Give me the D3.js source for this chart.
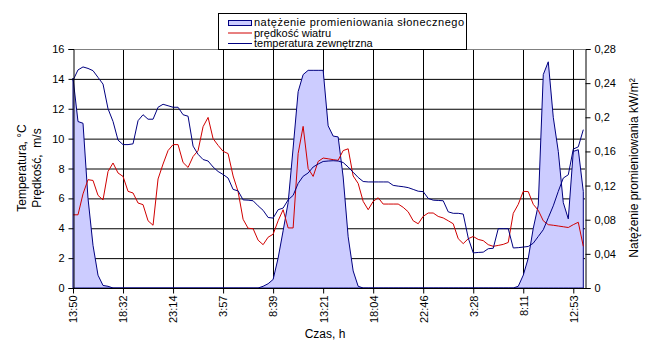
<!DOCTYPE html>
<html><head><meta charset="utf-8">
<script src="https://cdn.jsdelivr.net/npm/d3@7/dist/d3.min.js"></script>
<style>
body{margin:0;background:#fff;}
svg{display:block;font-family:"Liberation Sans",Arial,sans-serif;}
</style></head><body>
<svg id="c" width="652" height="357"></svg>
<script>
// Tick labels on the category axis (one every 10 samples)
const tickLabels = ["13:50","18:32","23:14","3:57","8:39","13:21","18:04","22:46","3:28","8:11","12:53"];
const tickEvery = 10;

// Solar radiation, kW/m2 (right axis)
const radiation = [0.246,0.195,0.193,0.105,0.05,0.015,0.003,0.002,0,0,
 0,0,0,0,0,0,0,0,0,0,
 0,0,0,0,0,0,0,0,0,0,
 0,0,0,0,0,0,0,0,0.002,0.005,
 0.01,0.035,0.067,0.1,0.164,0.23,0.25,0.255,0.255,0.255,
 0.255,0.19,0.178,0.177,0.13,0.06,0.02,0.002,0,0,
 0,0,0,0,0,0,0,0,0,0,
 0,0,0,0,0,0,0,0,0,0,
 0,0,0,0,0,0,0,0,0,0.002,
 0.015,0.035,0.07,0.097,0.25,0.265,0.2,0.16,0.1,0.081,
 0.16,0.162,0.113];

// Wind speed, m/s (left axis)
const wind = [4.9,4.9,6.3,7.25,7.2,6.2,5.9,7.8,8.37,7.7,
 7.47,6.47,6.36,5.69,5.58,4.5,4.2,7.3,8.3,9.2,
 9.6,9.6,8.4,8.07,8.8,9.2,10.8,11.42,10.0,9.55,
 9.15,9.0,7.5,6.45,4.6,4.0,3.97,3.2,2.9,3.4,
 3.6,4.5,5.24,4.02,4.02,9.0,10.82,8.0,7.47,8.47,
 8.7,8.65,8.59,8.55,9.2,9.32,7.5,7.0,5.8,5.24,
 5.8,6.04,5.62,5.62,5.62,5.62,5.4,5.1,4.5,4.3,
 4.8,5.02,5.02,4.79,4.69,4.5,4.3,3.3,2.97,3.3,
 3.45,3.25,3.17,2.9,2.79,2.85,2.92,3.05,5.0,5.6,
 6.47,6.45,5.6,5.2,4.5,4.24,4.2,4.15,4.1,4.05,
 4.24,4.4,2.79];

// Outside temperature, °C (left axis)
const temperature = [13.9,14.6,14.8,14.7,14.55,14.1,13.65,12.0,11.15,9.9,
 9.6,9.6,9.65,11.2,11.6,11.3,11.3,12.1,12.3,12.2,
 12.1,12.1,11.6,11.5,9.5,8.95,8.6,8.5,8.1,7.8,
 7.6,7.36,6.6,6.5,5.9,5.88,5.84,5.5,5.2,4.72,
 4.68,5.24,5.35,5.9,6.2,7.0,7.48,7.7,8.1,8.3,
 8.47,8.5,8.52,8.5,8.4,8.1,7.75,7.4,7.13,7.1,
 7.1,7.1,7.1,7.1,6.87,6.82,6.78,6.72,6.6,6.48,
 6.45,6.0,5.88,5.86,5.84,5.1,5.0,5.0,4.95,3.35,
 2.35,2.38,2.4,2.63,2.66,3.97,3.97,3.97,2.68,2.7,
 2.74,2.78,3.0,3.45,3.9,4.7,5.5,6.47,7.36,7.58,
 9.3,9.45,10.6];

const leftTicks = [0,2,4,6,8,10,12,14,16];
const rightTicks = [0,0.04,0.08,0.12,0.16,0.2,0.24,0.28];
const legendItems = ["natężenie promieniowania słonecznego","prędkość wiatru","temperatura zewnętrzna"];

const L = 73, R = 585, T = 49, B = 288;
const svg = d3.select("#c");
const x = d3.scaleLinear().domain([0, 102.34]).range([L, R]);
const yL = d3.scaleLinear().domain([0,16]).range([B, T]);
const yR = d3.scaleLinear().domain([0,0.28]).range([B, T]);

const cFill = "#ccccff", cNavy = "#000080", cRed = "#d00000";
const tickIdx = tickLabels.map((d,i)=>i*tickEvery);

// gridlines
const g = svg.append("g");
g.selectAll("line.h").data(leftTicks.filter(v=>v>0 && v<16)).join("line")
  .attr("x1",L).attr("x2",R).attr("y1",d=>yL(d)+0.5).attr("y2",d=>yL(d)+0.5)
  .attr("stroke","#000").attr("stroke-width",1);
g.selectAll("line.v").data(tickIdx.filter(v=>v>0)).join("line")
  .attr("x1",d=>Math.round(x(d))+0.5).attr("x2",d=>Math.round(x(d))+0.5).attr("y1",T).attr("y2",B)
  .attr("stroke","#000").attr("stroke-width",1);
// top border
svg.append("line").attr("x1",L).attr("x2",R).attr("y1",T+0.5).attr("y2",T+0.5).attr("stroke","#808080");

// radiation area
const area = d3.area().x((d,i)=>x(i)).y0(yR(0)).y1(d=>yR(d));
svg.append("path").datum(radiation).attr("d",area)
  .attr("fill",cFill).attr("stroke",cNavy).attr("stroke-width",1);

// lines
const line = d3.line().x((d,i)=>x(i)).y(d=>yL(d));
svg.append("path").datum(wind).attr("d",line).attr("fill","none").attr("stroke",cRed).attr("stroke-width",1);
svg.append("path").datum(temperature).attr("d",line).attr("fill","none").attr("stroke",cNavy).attr("stroke-width",1);

// axes
const fs = "11px";
const ax = svg.append("g").attr("transform",`translate(${L+0.5},0)`)
  .call(d3.axisLeft(yL).tickValues(leftTicks).tickSize(5).tickPadding(4).tickFormat(d3.format("d")));
const axR = svg.append("g").attr("transform",`translate(${R+0.5},0)`)
  .call(d3.axisRight(yR).tickValues(rightTicks).tickSize(5).tickPadding(4)
    .tickFormat(v=>v===0?"0":String(+v.toFixed(2)).replace(".",",")));
const axB = svg.append("g").attr("transform",`translate(0,${B+0.5})`)
  .call(d3.axisBottom(x).tickValues(tickIdx).tickSize(5).tickFormat((d,i)=>tickLabels[i]));
axB.selectAll("text").attr("transform","rotate(-90)").attr("text-anchor","end")
  .attr("x",-7).attr("y",0).attr("dy","0.35em");
[ax,axR,axB].forEach(a=>{
  a.selectAll("path.domain").attr("stroke","#000").attr("stroke-width",1);
  a.selectAll("line").attr("stroke","#000");
  a.selectAll("text").attr("fill","#000").style("font-size",fs).style("font-family",'"Liberation Sans",Arial,sans-serif');
});
axB.select("path.domain").remove();
svg.append("line").attr("x1",L).attr("x2",R+1).attr("y1",B+0.5).attr("y2",B+0.5).attr("stroke","#000");

// titles
const tf = "12px";
svg.append("text").attr("transform","translate(26,168) rotate(-90)").attr("text-anchor","middle")
  .style("font-size",tf).text("Temperatura, °C");
svg.append("text").attr("transform","translate(41,168) rotate(-90)").attr("text-anchor","middle")
  .style("font-size",tf).style("white-space","pre").text("Prędkość,  m/s");
svg.append("text").attr("transform","translate(638,168) rotate(-90)").attr("text-anchor","middle")
  .style("font-size",tf).text("Natężenie promieniowania kW/m²");
svg.append("text").attr("x",325).attr("y",338).attr("text-anchor","middle")
  .style("font-size",tf).text("Czas, h");

// legend
const lg = svg.append("g");
lg.append("rect").attr("x",218.5).attr("y",13.5).attr("width",248).attr("height",36)
  .attr("fill","#fff").attr("stroke","#000");
const ly = [22.5, 33, 43.5];
lg.append("rect").attr("x",228.5).attr("y",20.5).attr("width",23).attr("height",5)
  .attr("fill",cFill).attr("stroke",cNavy);
lg.append("line").attr("x1",228).attr("x2",252).attr("y1",ly[1]).attr("y2",ly[1]).attr("stroke",cRed);
lg.append("line").attr("x1",228).attr("x2",252).attr("y1",ly[2]).attr("y2",ly[2]).attr("stroke",cNavy);
lg.selectAll("text").data(legendItems).join("text")
  .attr("x",254).attr("y",(d,i)=>ly[i]+3.5).style("font-size","11px")
  .attr("textLength",(d,i)=>i===0?210:null).text(d=>d);
</script></body></html>
